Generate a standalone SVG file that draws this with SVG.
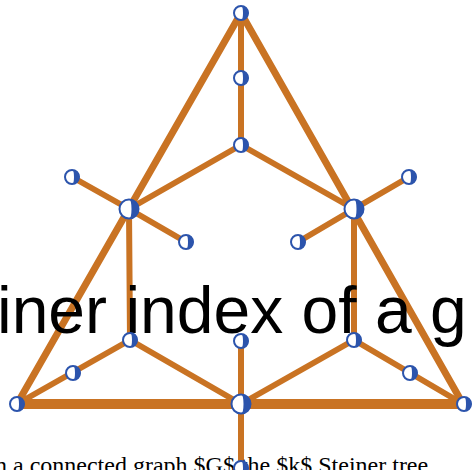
<svg xmlns="http://www.w3.org/2000/svg" width="472" height="470" viewBox="0 0 472 470">
<defs>
<style>
.e{stroke:#C97323;stroke-linecap:round;fill:none}
.t{stroke-width:7}
.i{stroke-width:6}
.b{stroke-width:10;stroke-linecap:butt}
.ring{fill:#fff;stroke:#2C54AC;stroke-width:2}
.half{fill:#2C54AC}
.big{font-family:"Liberation Sans",Arial,sans-serif;font-size:66px;fill:#000}
.cap{font-family:"Liberation Serif","Times New Roman",serif;font-size:24px;fill:#000}
</style>
<g id="nd">
<circle class="ring" cx="0" cy="0" r="7"/>
<path class="half" d="M0.5,-7 A7,7 0 0 1 0.5,7 A1.5,7 0 0 0 0.5,-7 Z"/>
</g>
<g id="nb">
<circle class="ring" cx="0" cy="0" r="9.5"/>
<path class="half" d="M0.5,-9.5 A9.5,9.5 0 0 1 0.5,9.5 A2,9.5 0 0 0 0.5,-9.5 Z"/>
</g>
</defs>
<rect width="472" height="470" fill="#fff"/>
<g id="connectors">
<line class="e t" x1="241" y1="13" x2="17" y2="404"/>
<line class="e t" x1="241" y1="13" x2="463" y2="404"/>
<line class="e i" x1="241" y1="13" x2="241" y2="145"/>
<line class="e i" x1="241" y1="145" x2="129" y2="209"/>
<line class="e i" x1="241" y1="145" x2="354" y2="209"/>
<line class="e i" x1="129" y1="209" x2="72" y2="177"/>
<line class="e i" x1="129" y1="209" x2="186" y2="242"/>
<line class="e i" x1="354" y1="209" x2="409" y2="177"/>
<line class="e i" x1="354" y1="209" x2="298" y2="242"/>
<line class="e i" x1="129" y1="209" x2="130" y2="340"/>
<line class="e i" x1="354" y1="209" x2="354" y2="340"/>
<line class="e i" x1="130" y1="340" x2="17" y2="404"/>
<line class="e i" x1="130" y1="340" x2="241" y2="404"/>
<line class="e i" x1="354" y1="340" x2="463" y2="404"/>
<line class="e i" x1="354" y1="340" x2="241" y2="404"/>
<line class="e i" x1="241" y1="341" x2="241" y2="470"/>
<line class="e b" x1="17" y1="404" x2="463" y2="404"/>
</g>
<text class="big" x="-3" y="333">iner index of a g</text>
<text class="cap" x="-5" y="473">n a connected graph $G$ the $k$ Steiner tree</text>
<g id="n1"><use href="#nd" x="241" y="13"/></g>
<g id="n2"><use href="#nd" x="241" y="78"/></g>
<g id="n3"><use href="#nd" x="241" y="145"/></g>
<g id="n4"><use href="#nb" x="129" y="209"/></g>
<g id="n5"><use href="#nb" x="354" y="209"/></g>
<g id="n6"><use href="#nd" x="72" y="177"/></g>
<g id="n7"><use href="#nd" x="186" y="242"/></g>
<g id="n8"><use href="#nd" x="409" y="177"/></g>
<g id="n9"><use href="#nd" x="298" y="242"/></g>
<g id="n10"><use href="#nd" x="130" y="340"/></g>
<g id="n11"><use href="#nd" x="241" y="341"/></g>
<g id="n12"><use href="#nd" x="354" y="340"/></g>
<g id="n13"><use href="#nd" x="73" y="373"/></g>
<g id="n14"><use href="#nd" x="410" y="373"/></g>
<g id="n15"><use href="#nd" x="17" y="404"/></g>
<g id="n16"><use href="#nb" x="241" y="404"/></g>
<g id="n17"><use href="#nd" x="464" y="404"/></g>
<g id="n18"><use href="#nd" x="241" y="468"/></g>
</svg>
